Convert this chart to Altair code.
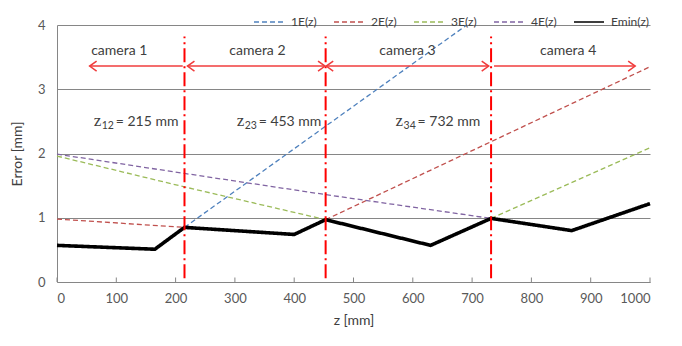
import altair as alt
import pandas as pd

# ---- data ----
emin_z = [0, 165, 215, 400, 453, 630, 732, 868, 1000]
emin_v = [0.57, 0.51, 0.85, 0.74, 0.97, 0.57, 0.99, 0.80, 1.22]

e1_z = [215, 691]
e1_v = [0.85, 4.0]

e2a_z = [0, 215]
e2a_v = [0.98, 0.85]
e2b_z = [453, 1000]
e2b_v = [0.97, 3.35]

e3a_z = [0, 215, 453]
e3a_v = [1.96, 1.48, 0.97]
e3b_z = [732, 1000]
e3b_v = [0.99, 2.09]

e4_z = [0, 215, 453, 732]
e4_v = [1.99, 1.69, 1.36, 0.99]

series_names = ["1E(z)", "2E(z)", "3E(z)", "4E(z)", "Emin(z)"]
series_colors = ["#4F81BD", "#C0504D", "#9BBB59", "#8064A2", "#000000"]

split_z = [215, 453, 732]
split_sub = ["12", "23", "34"]
split_rest = ["= 215 mm", "= 453 mm", "= 732 mm"]
split_label_left_z = [62, 303, 571]

camera_labels = ["camera 1", "camera 2", "camera 3", "camera 4"]
camera_label_z = [105, 338, 591, 862]
arrow_start = [55, 220, 454, 737]
arrow_end = [212, 452, 728, 975]
left_heads = [55, 220, 454]
right_heads = [452, 728, 975]

x_ticks = [0, 100, 200, 300, 400, 500, 600, 700, 800, 900, 1000]
y_ticks = [0, 1, 2, 3, 4]

# ---- build tables ----
rows = []
def add(zs, vs, name, seg):
    for z, v in zip(zs, vs):
        rows.append({"z": z, "v": v, "series": name, "seg": seg})

add(e1_z, e1_v, "1E(z)", "1")
add(e2a_z, e2a_v, "2E(z)", "2a")
add(e2b_z, e2b_v, "2E(z)", "2b")
add(e3a_z, e3a_v, "3E(z)", "3a")
add(e3b_z, e3b_v, "3E(z)", "3b")
add(e4_z, e4_v, "4E(z)", "4")
dash_df = pd.DataFrame(rows)
emin_df = pd.DataFrame({"z": emin_z, "v": emin_v, "series": "Emin(z)"})

split_df = pd.DataFrame({"z": split_z, "sub": split_sub, "rest": split_rest,
                         "lz": split_label_left_z, "zz": ["z"] * len(split_z)})
cam_df = pd.DataFrame({"label": camera_labels, "z": camera_label_z,
                       "a": arrow_start, "b": arrow_end})
lh_df = pd.DataFrame({"z": left_heads})
rh_df = pd.DataFrame({"z": right_heads})
tick_df = pd.DataFrame({"z": x_ticks})

FONT = "Lato"
xscale = alt.Scale(domain=[0, 1000], nice=False)
yscale = alt.Scale(domain=[0, 4], nice=False)

x_enc = alt.X("z:Q", scale=xscale,
              axis=alt.Axis(values=x_ticks, title="z [mm]", grid=False, format="d",
                            ticks=False, tickSize=0, labelPadding=10,
                            titlePadding=8, domainColor="#868686"))
y_enc = alt.Y("v:Q", scale=yscale,
              axis=alt.Axis(values=y_ticks, title="Error [mm]", grid=True, format="d",
                            gridColor="#868686", ticks=False, tickSize=0,
                            labelPadding=12, titlePadding=13,
                            domainColor="#868686"))

color_enc = alt.Color("series:N", title=None,
                      scale=alt.Scale(domain=series_names, range=series_colors))
dash_enc = alt.StrokeDash("series:N", title=None,
                          scale=alt.Scale(domain=series_names,
                                          range=[[5, 3], [5, 3], [5, 3], [5, 3], [1, 0]]))
width_enc = alt.StrokeWidth("series:N", title=None,
                            scale=alt.Scale(domain=series_names,
                                            range=[1.3, 1.3, 1.3, 1.3, 3.6]))

dashed = alt.Chart(dash_df).mark_line().encode(
    x=x_enc,
    y=y_enc,
    detail="seg:N",
    color=color_enc,
    strokeDash=dash_enc,
    strokeWidth=width_enc,
    order=alt.Order("z:Q"),
)

emin = alt.Chart(emin_df).mark_line(strokeWidth=3.6, strokeJoin="miter").encode(
    x=alt.X("z:Q", scale=xscale),
    y=alt.Y("v:Q", scale=yscale),
    color=color_enc,
    strokeDash=dash_enc,
    order=alt.Order("z:Q"),
)

ticks = alt.Chart(tick_df).mark_rule(color="#868686", strokeWidth=1).encode(
    x=alt.X("z:Q", scale=xscale),
    y=alt.datum(0),
    y2=alt.datum(0.07),
)

verticals = alt.Chart(split_df).mark_rule(
    color="#FF0000", strokeWidth=2, strokeDash=[14, 4, 2, 4]
).encode(
    x=alt.X("z:Q", scale=xscale),
    y=alt.datum(0.06),
    y2=alt.datum(3.82),
)

split_z_text = alt.Chart(split_df).mark_text(
    font="Liberation Serif", fontSize=17, color="#404040", baseline="middle", align="left",
    dy=-1
).encode(
    x=alt.X("lz:Q", scale=xscale),
    y=alt.datum(2.49),
    text="zz:N",
)

split_sub_text = alt.Chart(split_df).mark_text(
    font=FONT, fontSize=10.5, color="#404040", baseline="middle", align="left",
    dx=8, dy=4
).encode(
    x=alt.X("lz:Q", scale=xscale),
    y=alt.datum(2.49),
    text="sub:N",
)

split_rest_text = alt.Chart(split_df).mark_text(
    font=FONT, fontSize=14, color="#404040", baseline="middle", align="left",
    dx=22
).encode(
    x=alt.X("lz:Q", scale=xscale),
    y=alt.datum(2.49),
    text="rest:N",
)

arrows = alt.Chart(cam_df).mark_rule(color="#F03C3C", strokeWidth=1.5).encode(
    x=alt.X("a:Q", scale=xscale),
    x2="b:Q",
    y=alt.datum(3.36),
)

cam_text = alt.Chart(cam_df).mark_text(
    font=FONT, fontSize=14, color="#404040", baseline="middle", align="center"
).encode(
    x=alt.X("z:Q", scale=xscale),
    y=alt.datum(3.6),
    text="label:N",
)

lheads = alt.Chart(lh_df).mark_point(
    shape="M1.4,-1L0,0L1.4,1", filled=False, color="#F03C3C",
    strokeWidth=1.5, size=100, opacity=1
).encode(x=alt.X("z:Q", scale=xscale), y=alt.datum(3.36))

rheads = alt.Chart(rh_df).mark_point(
    shape="M-1.4,-1L0,0L-1.4,1", filled=False, color="#F03C3C",
    strokeWidth=1.5, size=100, opacity=1
).encode(x=alt.X("z:Q", scale=xscale), y=alt.datum(3.36))

chart = alt.layer(
    ticks, dashed, emin, verticals, arrows, lheads, rheads, cam_text,
    split_z_text, split_sub_text, split_rest_text
).properties(
    width=593, height=257,
    autosize=alt.AutoSizeParams(type="none"),
    padding={"left": 49, "top": 17, "right": 24, "bottom": 56},
).configure_view(
    stroke=None
).configure_axis(
    labelFont=FONT, titleFont=FONT, labelFontSize=13, titleFontSize=14,
    labelColor="#595959", titleColor="#404040", titleFontWeight="normal",
).configure_legend(
    orient="none", legendX=196, legendY=-19, direction="horizontal",
    symbolType="stroke", symbolSize=900, labelFont=FONT, labelFontSize=12,
    labelColor="#404040", labelOffset=6, columnPadding=14, padding=0,
)

chart.save("out.html", embed_options={"renderer": "svg", "actions": False})
